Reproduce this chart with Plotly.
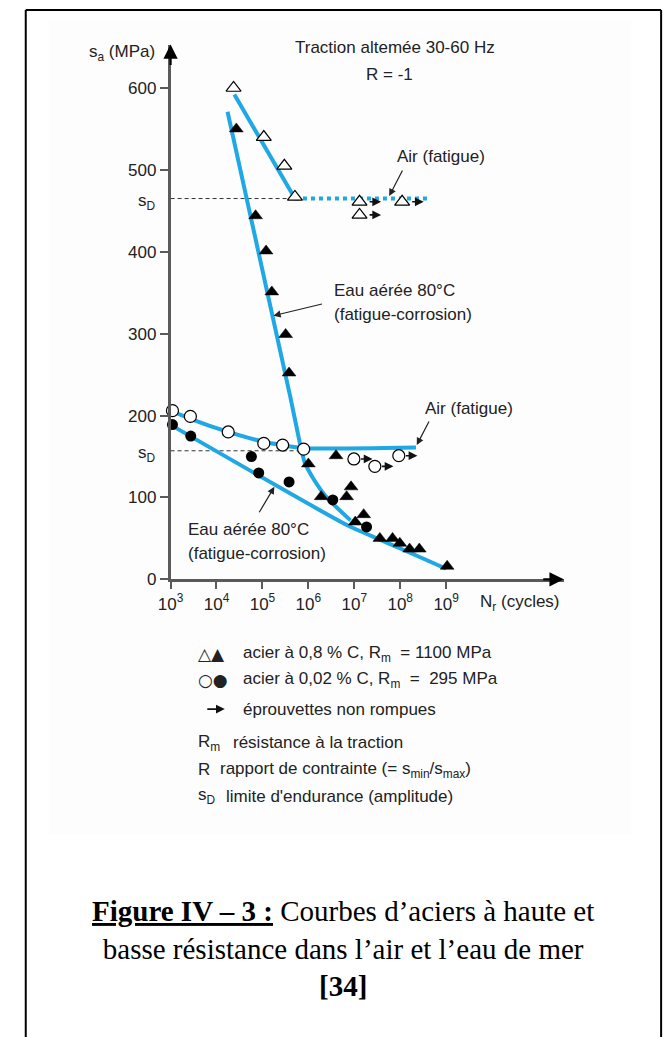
import math
import plotly.graph_objects as go

W, H = 667, 1037

# ---------------------------------------------------------------- data
# 0.8 % C steel (Rm = 1100 MPa) tested in air : open triangles
hc_air_N = [2.35e4, 1.07e5, 3.0e5, 5.1e5]
hc_air_S = [600, 540, 505, 467]
# unbroken specimens (run-outs)
hc_air_run_N = [1.3e7, 1.3e7, 1.1e8]
hc_air_run_S = [461, 445, 461]
# fitted curve and endurance plateau
hc_air_fit_N = [2.45e4, 5.1e5]
hc_air_fit_S = [592, 465]
hc_air_plateau_N = [5.1e5, 4.2e8]
hc_air_plateau_S = [465, 465]

# 0.8 % C steel in aerated water at 80 °C : filled triangles
hc_water_N = [2.7e4, 7.1e4, 1.2e5, 1.6e5, 3.2e5, 3.8e5, 1.0e6, 1.9e6, 4.0e6,
              6.8e6, 8.5e6, 1.05e7, 1.6e7, 3.6e7, 6.8e7, 9.8e7, 1.6e8,
              2.6e8, 1.05e9]
hc_water_S = [550, 444, 401, 351, 299, 252, 141, 101, 151,
              101, 113, 70, 79, 50, 50, 44, 37,
              37, 16]
hc_water_fit_N = [1.74e4, 4.0e5, 6.5e5, 8.3e5, 1.35e6, 2.6e6, 8.3e6]
hc_water_fit_S = [571, 224, 167, 143, 121, 99, 72]

# 0.02 % C steel (Rm = 295 MPa) in air : open circles
lc_air_N = [1.1e3, 2.7e3, 1.8e4, 1.07e5, 2.75e5, 7.9e5]
lc_air_S = [206, 199, 180, 166, 164, 159]
lc_air_run_N = [9.8e6, 2.8e7, 9.3e7]
lc_air_run_S = [147, 138, 151]
lc_air_fit_N = [1.0e3, 2.7e3, 1.8e4, 1.07e5, 7.9e5, 2.2e8]
lc_air_fit_S = [206, 196, 180, 168, 160, 161]

# 0.02 % C steel in aerated water at 80 °C : filled circles
lc_water_N = [1.1e3, 2.75e3, 5.75e4, 8.3e4, 3.8e5, 3.4e6, 1.85e7]
lc_water_S = [189, 175, 150, 130, 119, 97, 64]
lc_water_fit_N = [1.05e3, 7.1e6, 9.8e7, 1.0e9]
lc_water_fit_S = [188, 66, 38, 13]

# endurance limits (amplitude)
SD_HIGH = 465
SD_LOW = 157
sd_high_ref_N = [1.0e3, 4.0e5]
sd_low_ref_N = [1.0e3, 6.9e5]

x_tick_vals = [1e3, 1e4, 1e5, 1e6, 1e7, 1e8, 1e9]
x_tick_text = ["10<sup>%d</sup>" % k for k in range(3, 10)]
y_tick_vals = [0, 100, 200, 300, 400, 500, 600]

# ---------------------------------------------------------------- layout constants
LOG_MIN, LOG_MAX = 3.0, 11.56
Y_MIN, Y_MAX = 0, 653
AX_LEFT, AX_RIGHT = 160.7, 561.7     # px
AX_BOTTOM, AX_TOP = 585, 45          # px
PX_PER_DEC = (AX_RIGHT - AX_LEFT) / (LOG_MAX - LOG_MIN)

BLUE = "#1fa8e3"
AXIS_GREY = "#5a5a5a"
SANS = "Liberation Sans, Arial, Helvetica, sans-serif"
SERIF = "Liberation Serif, Times New Roman, serif"
FS = 17


def px(x):
    return x / W


def py(y):
    return 1 - y / H


fig = go.Figure()

# dashed endurance-limit guides
for ref_n, sd in ((sd_high_ref_N, SD_HIGH), (sd_low_ref_N, SD_LOW)):
    fig.add_trace(go.Scatter(x=ref_n, y=[sd, sd], mode="lines",
                             line=dict(color="#333", width=1, dash="4px,3px"),
                             hoverinfo="skip"))

# fitted curves
curve = dict(color=BLUE, width=4)
fig.add_trace(go.Scatter(x=hc_air_fit_N, y=hc_air_fit_S, mode="lines", line=curve))
fig.add_trace(go.Scatter(x=hc_air_plateau_N, y=hc_air_plateau_S, mode="lines",
                         line=dict(color=BLUE, width=4, dash="4px,4px")))
fig.add_trace(go.Scatter(x=hc_water_fit_N, y=hc_water_fit_S, mode="lines",
                         line=dict(color=BLUE, width=4, shape="spline", smoothing=0.6)))
fig.add_trace(go.Scatter(x=lc_air_fit_N, y=lc_air_fit_S, mode="lines",
                         line=dict(color=BLUE, width=4, shape="spline", smoothing=0.4)))
fig.add_trace(go.Scatter(x=lc_water_fit_N, y=lc_water_fit_S, mode="lines",
                         line=dict(color=BLUE, width=4, shape="spline", smoothing=0.5)))

# experimental points
open_tri = dict(symbol="triangle-up", size=13, color="white",
                line=dict(color="black", width=1.2))
full_tri = dict(symbol="triangle-up", size=12, color="black",
                line=dict(color="black", width=0.5))
open_circ = dict(symbol="circle", size=12, color="white",
                 line=dict(color="black", width=1.2))
full_circ = dict(symbol="circle", size=11, color="black")

fig.add_trace(go.Scatter(x=hc_air_N, y=hc_air_S, mode="markers", marker=open_tri))
fig.add_trace(go.Scatter(x=hc_air_run_N, y=hc_air_run_S, mode="markers", marker=open_tri))
fig.add_trace(go.Scatter(x=lc_air_N, y=lc_air_S, mode="markers", marker=open_circ))
fig.add_trace(go.Scatter(x=lc_air_run_N, y=lc_air_run_S, mode="markers", marker=open_circ))
fig.add_trace(go.Scatter(x=lc_water_N, y=lc_water_S, mode="markers", marker=full_circ))
fig.add_trace(go.Scatter(x=hc_water_N, y=hc_water_S, mode="markers", marker=full_tri))

for tr in fig.data:
    tr.cliponaxis = False
    tr.showlegend = False

annotations = []

# run-out arrows next to unbroken specimens
for n_list, s_list, gap in ((hc_air_run_N, hc_air_run_S, 22),
                            (lc_air_run_N, lc_air_run_S, 19)):
    for n, s in zip(n_list, s_list):
        annotations.append(dict(
            x=math.log10(n) + gap / PX_PER_DEC, y=s, xref="x", yref="y",
            ax=-13, ay=0, text="", showarrow=True, arrowhead=2,
            arrowsize=1.1, arrowwidth=1.6, arrowcolor="#111"))

# axis arrowheads
annotations.append(dict(x=LOG_MAX, y=0, xref="x", yref="y", ax=-22, ay=0,
                        text="", showarrow=True, arrowhead=2, arrowsize=1.3,
                        arrowwidth=2.2, arrowcolor="black"))
annotations.append(dict(x=LOG_MIN, y=Y_MAX, xref="x", yref="y", ax=0, ay=22,
                        text="", showarrow=True, arrowhead=2, arrowsize=1.3,
                        arrowwidth=2.2, arrowcolor="black"))


def text(x, y, s, size=FS, xanchor="left", yanchor="middle", family=SANS, **kw):
    annotations.append(dict(x=px(x), y=py(y), xref="paper", yref="paper",
                            text=s, showarrow=False, xanchor=xanchor,
                            yanchor=yanchor, font=dict(family=family, size=size,
                                                       color="#222"), **kw))


def pointer(n_log, s, ax, ay):
    annotations.append(dict(x=n_log, y=s, xref="x", yref="y", ax=ax, ay=ay,
                            text="", showarrow=True, arrowhead=2, arrowsize=1.2,
                            arrowwidth=1.2, arrowcolor="#222"))


# axis titles and endurance labels
text(75, 54, "s<sub>a</sub> (MPa)")
text(474, 609, "N<sub>r</sub> (cycles)")
for sd in (SD_HIGH, SD_LOW):
    annotations.append(dict(x=px(148), y=sd, xref="paper", yref="y",
                            text="s<sub>D</sub>", showarrow=False,
                            xanchor="right", yanchor="middle", yshift=-3,
                            font=dict(family=SANS, size=FS, color="#222")))

# test conditions
text(390, 48, "Traction altemée 30-60 Hz", xanchor="center")
text(384, 75, "R = -1", xanchor="center")

# curve labels
text(437, 158, "Air (fatigue)", xanchor="center")
pointer(7.76, 468, 14, -27)
text(325, 293, "Eau aérée 80°C")
text(325, 318, "(fatigue-corrosion)")
pointer(5.24, 322, 50, -12)
text(465, 412, "Air (fatigue)", xanchor="center")
pointer(8.36, 164, 13, -25)
text(176, 535, "Eau aérée 80°C")
text(176, 559, "(fatigue-corrosion)")
pointer(5.26, 113, -16, 27)

# key
text(187, 660, "△▲", size=17, family="DejaVu Sans")
text(233, 660, "acier à 0,8 % C, R<sub>m</sub>\u00a0 = 1100 MPa")
text(187, 687, "○●", size=17, family="DejaVu Sans")
text(233, 687, "acier à 0,02 % C, R<sub>m</sub>\u00a0 = \u00a0295 MPa")
annotations.append(dict(x=px(216), y=py(716), xref="paper", yref="paper",
                        ax=-19, ay=0, text="", showarrow=True, arrowhead=2,
                        arrowsize=1.1, arrowwidth=1.6, arrowcolor="#111"))
text(233, 716, "éprouvettes non rompues")
text(187, 750, "R<sub>m</sub>")
text(222, 750, "résistance à la traction")
text(187, 777, "R")
text(209, 777, "rapport de contrainte (= s<sub>min</sub>/s<sub>max</sub>)")
text(187, 804, "s<sub>D</sub>")
text(215, 804, "limite d'endurance (amplitude)")

# figure caption
annotations.append(dict(
    x=px(337), y=py(958), xref="paper", yref="paper", showarrow=False,
    xanchor="center", yanchor="middle", align="center",
    text="<b><u>Figure IV – 3 :</u></b> Courbes d’aciers à haute et<br>"
         "basse résistance dans l’air et l’eau de mer<br><b>[34]</b>",
    font=dict(family=SERIF, size=29, color="black")))

shapes = [
    # very light backdrop of the diagram
    dict(type="rect", xref="paper", yref="paper", x0=px(37), x1=px(630),
         y0=py(842), y1=py(20), fillcolor="#fdfdfd", line=dict(width=0),
         layer="below"),
    # page frame
    dict(type="line", xref="paper", yref="paper", x0=px(13), x1=px(13),
         y0=py(10), y1=-0.01, line=dict(color="black", width=2)),
    dict(type="line", xref="paper", yref="paper", x0=px(13), x1=px(661),
         y0=py(10), y1=py(10), line=dict(color="black", width=2)),
    dict(type="line", xref="paper", yref="paper", x0=px(661), x1=px(661),
         y0=py(10), y1=-0.01, line=dict(color="black", width=2)),
]

fig.update_layout(
    width=W, height=H,
    margin=dict(l=0, r=0, t=0, b=0),
    paper_bgcolor="white", plot_bgcolor="rgba(0,0,0,0)",
    showlegend=False,
    annotations=annotations, shapes=shapes,
    font=dict(family=SANS, size=FS, color="#222"),
    xaxis=dict(type="log", range=[LOG_MIN, LOG_MAX],
               domain=[px(AX_LEFT), px(AX_RIGHT)],
               showgrid=False, zeroline=False, showline=True,
               linecolor=AXIS_GREY, linewidth=2.5,
               ticks="outside", ticklen=7, tickwidth=1.5, tickcolor=AXIS_GREY,
               tickvals=x_tick_vals, ticktext=x_tick_text,
               tickfont=dict(family=SANS, size=FS, color="#222")),
    yaxis=dict(range=[Y_MIN, Y_MAX],
               domain=[py(AX_BOTTOM), py(AX_TOP)],
               showgrid=False, zeroline=False, showline=True,
               linecolor=AXIS_GREY, linewidth=2.5,
               ticks="outside", ticklen=8, tickwidth=1.5, tickcolor=AXIS_GREY,
               tickvals=y_tick_vals,
               tickfont=dict(family=SANS, size=FS, color="#222")),
)

fig.write_html("out.html")
